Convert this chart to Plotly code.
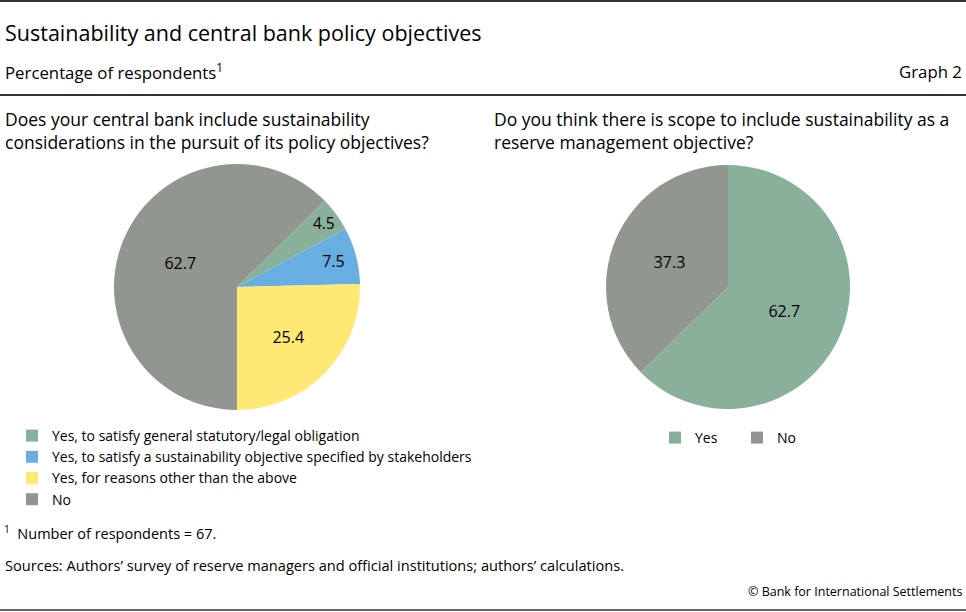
import plotly.graph_objects as go

# Data
left_labels = ["Yes, to satisfy general statutory/legal obligation",
               "Yes, to satisfy a sustainability objective specified by stakeholders",
               "Yes, for reasons other than the above",
               "No"]
left_values = [4.5, 7.5, 25.4, 62.7]
left_colors = ["#88B09A", "#68AEE0", "#FFE873", "#91978F"]

# trailing space keeps the right-hand "No" as its own legend entry
right_labels = ["Yes", "No "]
right_values = [62.7, 37.3]
right_colors = ["#88B09A", "#91978F"]

FONT = "Open Sans"
W, H = 966, 612

# left pie: "No" slice begins at 6 o'clock and runs clockwise; first slice starts where "No" ends
left_rotation = (180 + 360 * left_values[-1] / sum(left_values)) % 360

fig = go.Figure()
fig.add_trace(go.Pie(
    labels=left_labels, values=left_values, sort=False, direction="clockwise",
    rotation=left_rotation,
    marker=dict(colors=left_colors, line=dict(width=0)),
    texttemplate="%{value:.1f}", textposition="inside", insidetextorientation="horizontal",
    textfont=dict(family=FONT, size=16, color="black"),
    domain=dict(x=[114 / W, 360 / W], y=[(325 - 123) / H, (325 + 123) / H]),
    legend="legend", hoverinfo="label+value", showlegend=True,
))
fig.add_trace(go.Pie(
    labels=right_labels, values=right_values, sort=False, direction="clockwise",
    rotation=0,
    marker=dict(colors=right_colors, line=dict(width=0)),
    texttemplate="%{value:.1f}", textposition="inside", insidetextorientation="horizontal",
    textfont=dict(family=FONT, size=16, color="black"),
    domain=dict(x=[606 / W, 850 / W], y=[(325 - 122) / H, (325 + 122) / H]),
    legend="legend2", hoverinfo="label+value", showlegend=True,
))

def px_x(x):
    return x / W

def px_y(y):
    return 1 - y / H

annotations = [
    dict(text="Sustainability and central bank policy objectives", x=px_x(3), y=px_y(32),
         xanchor="left", yanchor="middle", font=dict(size=21.5)),
    dict(text="Percentage of respondents<sup>1</sup>", x=px_x(3), y=px_y(71),
         xanchor="left", yanchor="middle", font=dict(size=16.8)),
    dict(text="Graph 2", x=px_x(964), y=px_y(71), xanchor="right", yanchor="middle",
         font=dict(size=16.8)),
    dict(text="Does your central bank include sustainability<br>considerations in the pursuit of its policy objectives?",
         x=px_x(3), y=px_y(105), xanchor="left", yanchor="top", align="left", font=dict(size=17.5)),
    dict(text="Do you think there is scope to include sustainability as a<br>reserve management objective?",
         x=px_x(492), y=px_y(105), xanchor="left", yanchor="top", align="left", font=dict(size=17.5)),
    dict(text="<sup>1</sup>  Number of respondents = 67.", x=px_x(2), y=px_y(532),
         xanchor="left", yanchor="middle", font=dict(size=14.5)),
    dict(text="Sources: Authors\u2019 survey of reserve managers and official institutions; authors\u2019 calculations.",
         x=px_x(3), y=px_y(565), xanchor="left", yanchor="middle", font=dict(size=14.6)),
    dict(text="\u00a9 Bank for International Settlements", x=px_x(964), y=px_y(591),
         xanchor="right", yanchor="middle", font=dict(size=12.5)),
]
for a in annotations:
    a.update(xref="paper", yref="paper", showarrow=False)
    a["font"].update(family=FONT, color="black")

shapes = [
    dict(type="line", x0=0, x1=1, y0=px_y(1), y1=px_y(1), line=dict(color="#333333", width=2)),
    dict(type="line", x0=0, x1=1, y0=px_y(95), y1=px_y(95), line=dict(color="#333333", width=2)),
    dict(type="line", x0=0, x1=1, y0=px_y(610), y1=px_y(610), line=dict(color="#333333", width=1.5)),
]
for s in shapes:
    s.update(xref="paper", yref="paper")

fig.update_layout(
    width=W, height=H,
    margin=dict(l=0, r=0, t=0, b=0),
    paper_bgcolor="white", plot_bgcolor="white",
    font=dict(family=FONT, color="black"),
    annotations=annotations, shapes=shapes,
    legend=dict(x=px_x(12), y=px_y(420), xanchor="left", yanchor="top",
                orientation="v", font=dict(family=FONT, size=14), bgcolor="rgba(0,0,0,0)",
                tracegroupgap=0),
    legend2=dict(x=px_x(655), y=px_y(422), xanchor="left", yanchor="top",
                 orientation="h", font=dict(family=FONT, size=14), bgcolor="rgba(0,0,0,0)",
                 entrywidth=37, entrywidthmode="pixels"),
)

fig.write_html("out.html", post_script="document.body.style.margin='0';",
               config={"displayModeBar": False})
